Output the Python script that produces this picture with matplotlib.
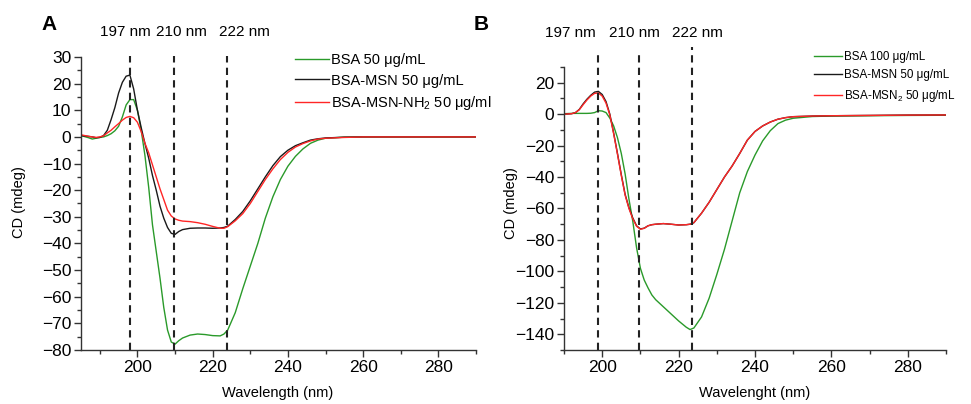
import matplotlib
matplotlib.use("Agg")
import matplotlib.pyplot as plt
from matplotlib.ticker import MultipleLocator

plt.rcParams['font.family'] = ['Liberation Sans', 'DejaVu Sans']
plt.rcParams['mathtext.fontset'] = 'custom'
plt.rcParams['mathtext.rm'] = 'Liberation Sans'
plt.rcParams['mathtext.it'] = 'Liberation Sans:italic'

# ---- panel A data ----
wl_a = [185, 187, 188, 189, 190, 191, 192, 193, 194, 195, 196, 197, 198, 199, 200,
        201, 202, 203, 204, 205, 206, 207, 208, 209, 210, 211, 212, 214, 216, 218,
        220, 222, 223, 224, 226, 228, 230, 232, 234, 236, 238, 240, 242, 244, 246,
        248, 250, 255, 260, 270, 280, 290]
bsa_a = [0.5, -0.3, -0.8, -0.5, -0.2, 0.0, 0.5, 1.2, 2.3, 4.0, 7.5, 12.0, 14.0, 14.0, 10.0,
         2.5, -7.0, -19.0, -33.0, -43.0, -53.0, -64.0, -72.5, -77.0, -77.8, -76.5, -75.5, -74.4, -74.0, -74.2,
         -74.6, -74.7, -74.0, -72.5, -66.0, -57.0, -48.5, -40.0, -30.5, -22.5, -16.0, -11.0, -7.3, -4.5, -2.4,
         -1.2, -0.5, -0.1, 0.0, 0.0, 0.0, 0.0]
msn_a = [0.5, 0.2, 0.0, -0.3, -0.2, 0.5, 2.5, 6.5, 11.0, 16.5, 20.5, 22.8, 23.2, 18.0, 10.0,
         3.5, -2.5, -8.0, -14.5, -20.0, -26.0, -30.5, -34.0, -36.2, -36.6, -35.5, -34.8, -34.3, -34.2, -34.2,
         -34.3, -34.2, -34.0, -33.5, -31.0, -28.0, -24.0, -19.5, -15.0, -10.8, -7.4, -5.0, -3.3, -2.2, -1.2,
         -0.7, -0.4, -0.1, 0.0, 0.0, 0.0, 0.0]
nh2_a = [0.8, 0.2, 0.0, -0.2, 0.0, 0.4, 1.5, 2.5, 3.8, 5.0, 6.3, 7.3, 7.7, 7.2, 5.5,
         2.0, -2.4, -6.0, -10.5, -15.0, -19.5, -23.5, -27.5, -29.7, -30.8, -31.3, -31.6, -31.8, -32.2, -32.8,
         -33.6, -34.3, -34.3, -33.7, -31.5, -28.8, -25.0, -20.5, -16.0, -12.0, -8.5, -5.8, -3.8, -2.5, -1.5,
         -0.8, -0.5, -0.2, 0.0, 0.0, 0.0, 0.0]

# ---- panel B data ----
wl_b = [190, 192, 193, 194, 195, 196, 197, 198, 199, 200, 201, 202, 203, 204, 205,
        206, 207, 208, 209, 210, 211, 212, 213, 214, 216, 218, 220, 222, 223, 224,
        226, 228, 230, 232, 234, 236, 238, 240, 242, 244, 246, 248, 250, 255, 260,
        270, 280, 290]
bsa_b = [0.3, 0.5, 0.5, 0.5, 0.5, 0.5, 0.6, 1.0, 2.2, 2.0, 1.0, -2.5, -7.5, -15.0, -25.0,
         -38.0, -54.0, -68.0, -85.0, -98.0, -105.5, -110.5, -115.0, -118.0, -122.5, -127.0, -131.5, -135.5, -137.0, -136.0,
         -129.0, -117.0, -102.0, -86.0, -68.0, -50.0, -36.5, -26.0, -17.0, -10.5, -6.0, -3.8, -2.6, -1.5, -1.2,
         -1.0, -0.8, -0.7]
msn_b = [0.0, 0.3, 1.0, 3.0, 6.5, 9.5, 12.0, 14.0, 14.5, 12.5, 8.0, 0.0, -12.0, -25.0, -38.5,
         -51.0, -59.5, -66.0, -71.0, -73.0, -72.5, -71.0, -70.3, -70.0, -69.6, -70.0, -70.5, -70.3, -70.0, -69.0,
         -63.0, -56.0, -48.0, -40.0, -33.0, -25.0, -16.5, -11.0, -7.5, -5.0, -3.2, -2.2, -1.6, -1.2, -1.0,
         -0.8, -0.6, -0.5]
nh2_b = [0.0, 0.3, 1.0, 2.8, 6.0, 9.0, 11.5, 13.2, 13.5, 11.5, 7.0, -0.5, -12.5, -25.5, -39.0,
         -51.5, -60.0, -66.5, -71.3, -73.2, -72.6, -71.0, -70.3, -70.0, -69.6, -70.0, -70.5, -70.3, -70.0, -69.0,
         -63.0, -56.0, -48.0, -40.0, -33.0, -25.0, -16.5, -11.0, -7.5, -5.0, -3.2, -2.2, -1.6, -1.2, -1.0,
         -0.8, -0.6, -0.5]

peaks_a = [198, 209.8, 223.8]
peaks_b = [199, 209.6, 223.6]
peak_labels = ['197 nm', '210 nm', '222 nm']

labels_a = ['BSA 50 μg/mL', 'BSA-MSN 50 μg/mL', 'BSA-MSN-NH$_2$ 50 μg/ml']
labels_b = ['BSA 100 μg/mL', 'BSA-MSN 50 μg/mL', 'BSA-MSN$_2$ 50 μg/mL']

GREEN = '#2a9a2a'
BLACK = '#1a1a1a'
RED = '#ff2626'

W, H = 971, 404
fig = plt.figure(figsize=(W / 100, H / 100), dpi=100)


def px(x, y):
    # figure pixel (from top-left) -> figure fraction
    return x / W, 1 - y / H


def style_axes(ax):
    for s in ['top', 'right']:
        ax.spines[s].set_visible(False)
    for s in ['left', 'bottom']:
        ax.spines[s].set_color('#333333')
        ax.spines[s].set_linewidth(1.0)
    ax.tick_params(which='major', direction='out', length=5, width=1, color='#333333',
                   labelsize=12.5, pad=2)
    ax.tick_params(which='minor', direction='out', length=3, width=1, color='#333333')
    ax.xaxis.set_major_locator(MultipleLocator(20))
    ax.xaxis.set_minor_locator(MultipleLocator(10))


# ---------------- panel A ----------------
axA = fig.add_axes([81 / W, 1 - 350 / H, 395 / W, 293 / H])
axA.plot(wl_a, bsa_a, color=GREEN, lw=1.0, label=labels_a[0])
axA.plot(wl_a, msn_a, color=BLACK, lw=1.0, label=labels_a[1])
axA.plot(wl_a, nh2_a, color=RED, lw=1.0, label=labels_a[2])
for p in peaks_a:
    axA.plot([p, p], [-80, 30.5], ls=(0, (3.5, 2.5)), color='#222222', lw=1.5, clip_on=False)
axA.set_xlim(185, 290)
axA.set_ylim(-80, 30)
style_axes(axA)
axA.yaxis.set_major_locator(MultipleLocator(10))
axA.yaxis.set_minor_locator(MultipleLocator(5))
axA.legend(loc='upper left', bbox_to_anchor=px(295, 53), bbox_transform=fig.transFigure,
           frameon=False, fontsize=10.5, handlelength=2.3, handletextpad=0.2,
           labelspacing=0.45, borderpad=0, borderaxespad=0)

# ---------------- panel B ----------------
axB = fig.add_axes([564 / W, 1 - 350 / H, 382 / W, 283 / H])
axB.plot(wl_b, bsa_b, color=GREEN, lw=1.0, label=labels_b[0])
axB.plot(wl_b, msn_b, color=BLACK, lw=1.0, label=labels_b[1])
axB.plot(wl_b, nh2_b, color=RED, lw=1.0, label=labels_b[2])
for p, top in zip(peaks_b, [38.5, 39.5, 42.5]):
    axB.plot([p, p], [-150, top], ls=(0, (3.5, 2.5)), color='#222222', lw=1.5, clip_on=False)
axB.set_xlim(190, 290)
axB.set_ylim(-150, 30)
style_axes(axB)
axB.yaxis.set_major_locator(MultipleLocator(20))
axB.yaxis.set_minor_locator(MultipleLocator(10))
axB.legend(loc='upper left', bbox_to_anchor=px(814, 51), bbox_transform=fig.transFigure,
           frameon=False, fontsize=8.4, handlelength=2.4, handletextpad=0.2,
           labelspacing=0.55, borderpad=0, borderaxespad=0)

# ---------------- texts ----------------
fig.text(*px(49, 25), 'A', fontsize=15, fontweight='bold', ha='center', va='center')
fig.text(*px(481, 25), 'B', fontsize=15, fontweight='bold', ha='center', va='center')

for lab, xc in zip(peak_labels, [125, 181, 244]):
    fig.text(*px(xc, 32), lab, fontsize=11, ha='center', va='center')
for lab, xc in zip(peak_labels, [570, 634, 697]):
    fig.text(*px(xc, 33), lab, fontsize=11, ha='center', va='center')

fig.text(*px(278, 393), 'Wavelength (nm)', fontsize=10.5, ha='center', va='center')
fig.text(*px(755, 393), 'Wavelenght (nm)', fontsize=10.5, ha='center', va='center')
fig.text(*px(19, 202), 'CD (mdeg)', fontsize=10.5, ha='center', va='center', rotation=90)
fig.text(*px(511, 203), 'CD (mdeg)', fontsize=10.5, ha='center', va='center', rotation=90)

fig.savefig('out.png', dpi=100)
